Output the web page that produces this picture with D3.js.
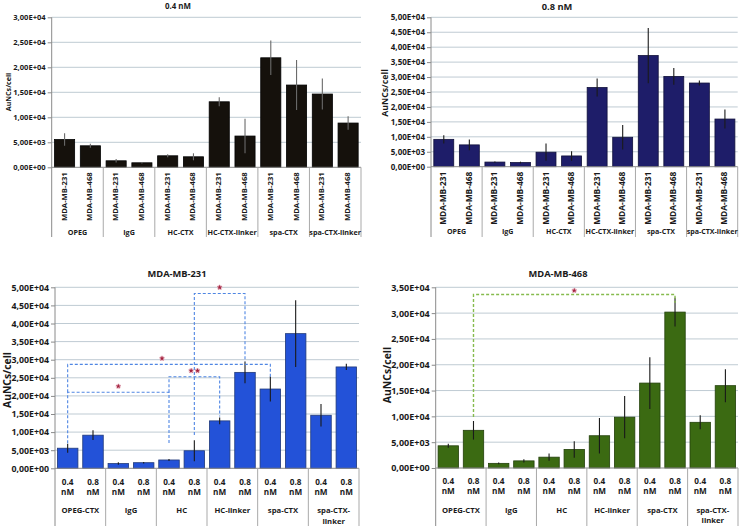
<!DOCTYPE html>
<html><head><meta charset="utf-8">
<script src="https://cdn.jsdelivr.net/npm/d3@7"></script>
<style>body{margin:0;background:#fff}svg{display:block}text{font-family:"Open Sans","DejaVu Sans",sans-serif;font-weight:700;fill:#1a1a1a}</style>
</head><body><svg id="c" width="740" height="527"></svg>
<script>
// ---- data ----
const groupsTop = ["OPEG","IgG","HC-CTX","HC-CTX-linker","spa-CTX","spa-CTX-linker"];
const groupsBottom = [["OPEG-CTX"],["IgG"],["HC"],["HC-linker"],["spa-CTX"],["spa-CTX-","linker"]];
const cellLines = ["MDA-MB-231","MDA-MB-468"];
const concLabels = [["0.4","nM"],["0.8","nM"]];
const titles = ["0.4 nM","0.8 nM","MDA-MB-231","MDA-MB-468"];
const yTitle = "AuNCs/cell";

const mda231_04 = [5550, 1300, 2300, 13100, 21900, 14650];
const mda231_04_err = [1250, 350, 300, 900, 3450, 3100];
const mda468_04 = [4300, 900, 2100, 6250, 16450, 8850];
const mda468_04_err = [400, 150, 700, 3450, 5000, 1350];
const mda231_08 = [9150, 1550, 4850, 26500, 37200, 28000];
const mda231_08_err = [1350, 200, 2900, 3000, 9250, 850];
const mda468_08 = [7300, 1380, 3600, 9850, 30200, 15950];
const mda468_08_err = [1800, 300, 1600, 4100, 2800, 3200];

const yMaxes = [30000, 50000, 50000, 35000];
const tickStep = 5000;

// significance brackets: [group, sub] from, to, bracket level, end levels (data units), stars
const brackets231 = [
  {from:[0,0], to:[2,0], level:21000, fromEnd:6900, toEnd:6800, stars:1},
  {from:[0,0], to:[4,0], level:28700, fromEnd:21000, toEnd:25300, stars:1, dx:-7},
  {from:[2,0], to:[3,0], level:25300, fromEnd:21000, toEnd:14300, stars:2},
  {from:[2,1], to:[3,1], level:48300, fromEnd:9200, toEnd:29500, stars:1}
];
const brackets468 = [
  {from:[0,1], to:[4,1], level:33600, fromEnd:9900, toEnd:32000, stars:1}
];

// ---- drawing ----
const svg = d3.select("#c");
const fmt = v => {
  if (v === 0) return "0,00E+00";
  const e = Math.floor(Math.log10(v) + 1e-9);
  return (v / 10 ** e).toFixed(2).replace(".", ",") + "E+" + String(e).padStart(2, "0");
};

function panel(cfg) {
  const g = svg.append("g");
  const y = d3.scaleLinear([0, cfg.max], [cfg.y1, cfg.y0]);
  const gx = d3.scaleBand(d3.range(6), [cfg.x0, cfg.x1]);
  const sx = d3.scaleBand([0, 1], [0, gx.bandwidth()]).paddingInner(cfg.pad).paddingOuter(cfg.pad / 2);
  const ticks = d3.range(0, cfg.max + 1, tickStep);
  const cx = (gi, si) => gx(gi) + sx(si) + sx.bandwidth() / 2;

  // grid
  g.selectAll(".grid").data(ticks.filter(t => t > 0)).join("line")
    .attr("x1", cfg.x0).attr("x2", cfg.x1)
    .attr("y1", d => y(d)).attr("y2", d => y(d))
    .attr("stroke", "#bfcbd3").attr("stroke-width", 1);

  // y axis
  const ax = g.append("g").attr("transform", `translate(${cfg.x0},0)`)
    .call(d3.axisLeft(y).tickValues(ticks).tickFormat(fmt).tickSize(4).tickPadding(2));
  ax.select(".domain").remove();
  ax.selectAll(".tick line").attr("stroke", "#8a8a8a");
  ax.selectAll(".tick text").attr("font-size", cfg.tickFs).attr("fill", "#1a1a1a")
    .style("font-family", '"Open Sans", "DejaVu Sans", sans-serif').style("font-weight", "700");

  // bars
  const bars = [];
  for (let gi = 0; gi < 6; gi++) for (let si = 0; si < 2; si++)
    bars.push({gi, si, v: cfg.series[si][gi], e: cfg.errs[si][gi]});
  g.selectAll(".bar").data(bars).join("rect")
    .attr("x", d => gx(d.gi) + sx(d.si)).attr("width", sx.bandwidth())
    .attr("y", d => y(d.v)).attr("height", d => y(0) - y(d.v))
    .attr("fill", cfg.color).attr("stroke", cfg.stroke).attr("stroke-width", 0.8);
  g.selectAll(".err").data(bars).join("line")
    .attr("x1", d => cx(d.gi, d.si)).attr("x2", d => cx(d.gi, d.si))
    .attr("y1", d => y(d.v + d.e)).attr("y2", d => y(Math.max(0, d.v - d.e)))
    .attr("stroke", cfg.errColor).attr("stroke-width", 1.1);

  // axes lines + separators
  g.append("line").attr("x1", cfg.x0).attr("x2", cfg.x1).attr("y1", y(0)).attr("y2", y(0))
    .attr("stroke", "#8a8a8a");
  g.append("line").attr("x1", cfg.x0).attr("x2", cfg.x0).attr("y1", cfg.y0).attr("y2", cfg.sepBottom)
    .attr("stroke", "#8a8a8a");
  g.selectAll(".sep").data(d3.range(1, 7)).join("line")
    .attr("x1", d => gx(0) + d * gx.step()).attr("x2", d => gx(0) + d * gx.step())
    .attr("y1", y(0)).attr("y2", cfg.sepBottom).attr("stroke", "#a9a9a9");

  // titles
  g.append("text").attr("x", cfg.titleX).attr("y", cfg.titleY).attr("text-anchor", "middle")
    .attr("font-size", cfg.titleFs).text(cfg.title);
  g.append("text").attr("transform", `translate(${cfg.yTitleX},${cfg.yTitleY}) rotate(-90)`)
    .attr("text-anchor", "middle").attr("dominant-baseline", "central")
    .attr("font-size", cfg.yTitleFs).text(yTitle);

  // category labels
  if (cfg.rotated) {
    g.selectAll(".cat").data(bars).join("text")
      .attr("transform", d => `translate(${cx(d.gi, d.si) - 1},${y(0) + 5}) rotate(-90)`)
      .attr("text-anchor", "end").attr("dominant-baseline", "central")
      .attr("font-size", cfg.catFs).text(d => cellLines[d.si]);
    g.selectAll(".grp").data(groupsTop).join("text")
      .attr("x", (d, i) => gx(i) + gx.bandwidth() / 2).attr("y", cfg.grpY)
      .attr("text-anchor", "middle").attr("font-size", cfg.grpFs).text(d => d);
  } else {
    bars.forEach(d => {
      concLabels[d.si].forEach((t, k) => {
        g.append("text").attr("x", cx(d.gi, d.si)).attr("y", cfg.catY + k * cfg.catLh)
          .attr("text-anchor", "middle").attr("font-size", cfg.catFs).text(t);
      });
    });
    groupsBottom.forEach((lines, i) => lines.forEach((t, k) => {
      g.append("text").attr("x", gx(i) + gx.bandwidth() / 2).attr("y", cfg.grpY + k * cfg.grpLh)
        .attr("text-anchor", "middle").attr("font-size", cfg.grpFs).text(t);
    }));
  }

  // brackets
  (cfg.brackets || []).forEach(b => {
    const xa = cx(...b.from), xb = cx(...b.to), yl = y(b.level);
    g.append("path")
      .attr("d", `M${xa},${y(b.fromEnd)}V${yl}H${xb}V${y(b.toEnd)}`)
      .attr("fill", "none").attr("stroke", cfg.bracketColor).attr("stroke-width", cfg.bracketW)
      .attr("stroke-dasharray", "3,2");
    const mx = (xa + xb) / 2 + (b.dx || 0);
    const offs = b.stars === 2 ? [-3.2, 3.2] : [0];
    offs.forEach(o => {
      g.append("circle").attr("cx", mx + o).attr("cy", yl - cfg.starDy).attr("r", 2.6)
        .attr("fill", "#e8b4c0").attr("opacity", 0.7);
      g.append("path").attr("d", d3.symbol(d3.symbolStar, 9)())
        .attr("transform", `translate(${mx + o},${yl - cfg.starDy})`)
        .attr("fill", "#a3223f");
    });
  });
}

panel({x0:51.7, x1:361, y0:17.3, y1:167.3, max:yMaxes[0], pad:0.22,
  series:[mda231_04, mda468_04], errs:[mda231_04_err, mda468_04_err],
  color:"#15110c", stroke:"#000", errColor:"#6a6a6a",
  tickFs:7.6, title:titles[0], titleX:178, titleY:8.5, titleFs:7.9,
  yTitleX:8, yTitleY:92, yTitleFs:7.1, rotated:true, catFs:7.7, grpY:235, grpFs:7.2, sepBottom:237});

panel({x0:431, x1:737.7, y0:17.3, y1:166.7, max:yMaxes[1], pad:0.22,
  series:[mda231_08, mda468_08], errs:[mda231_08_err, mda468_08_err],
  color:"#1e1d69", stroke:"#10103a", errColor:"#1a1a1a",
  tickFs:8, title:titles[1], titleX:557, titleY:9.5, titleFs:9.3,
  yTitleX:384.5, yTitleY:93, yTitleFs:8.8, rotated:true, catFs:8.4, grpY:233.5, grpFs:7.1, sepBottom:237});

panel({x0:55, x1:359, y0:287.3, y1:468.3, max:yMaxes[2], pad:0.19,
  series:[mda231_04, mda231_08], errs:[mda231_04_err, mda231_08_err],
  color:"#2352d8", stroke:"#213a7a", errColor:"#1a1a1a",
  tickFs:8.8, title:titles[2], titleX:177, titleY:277, titleFs:9.3,
  yTitleX:7, yTitleY:380, yTitleFs:10.3, rotated:false, catFs:8.2, catY:485, catLh:9.8,
  grpY:513, grpLh:10.5, grpFs:7.7, sepBottom:526,
  brackets:brackets231, bracketColor:"#4f86e3", bracketW:1.1, starDy:6});

panel({x0:435.7, x1:738, y0:287.3, y1:468, max:yMaxes[3], pad:0.19,
  series:[mda468_04, mda468_08], errs:[mda468_04_err, mda468_08_err],
  color:"#3b6a12", stroke:"#23400b", errColor:"#1a1a1a",
  tickFs:9, title:titles[3], titleX:558, titleY:277, titleFs:9.3,
  yTitleX:387, yTitleY:375, yTitleFs:10.4, rotated:false, catFs:8.2, catY:484, catLh:9.8,
  grpY:512.5, grpLh:10.5, grpFs:7.7, sepBottom:526,
  brackets:brackets468, bracketColor:"#86bb4e", bracketW:1.4, starDy:4});
</script></body></html>
